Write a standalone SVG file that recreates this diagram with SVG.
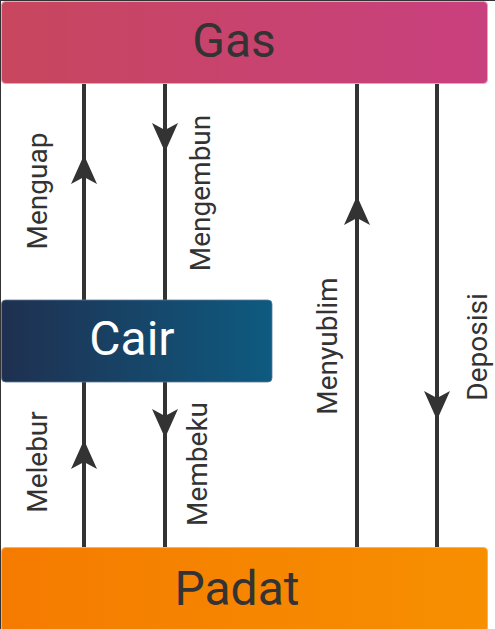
<svg xmlns="http://www.w3.org/2000/svg" xmlns:xlink="http://www.w3.org/1999/xlink" width="495" height="629" viewBox="0 0 495 629">
  <style>
    .conn { stroke: #333333; stroke-width: 4; fill: none; }
    .head { fill: #333333; }
    .lbl { font-family: Roboto, "Liberation Sans", sans-serif; font-size: 28px; fill: #333333; text-anchor: middle; }
    .big { font-family: Roboto, "Liberation Sans", sans-serif; font-size: 48px; text-anchor: middle; }
  </style>
  <defs>
    <linearGradient id="gGas" x1="0" y1="0" x2="1" y2="0">
      <stop offset="0" stop-color="#c8465e"/>
      <stop offset="1" stop-color="#c9407f"/>
    </linearGradient>
    <linearGradient id="gCair" x1="0" y1="0" x2="1" y2="0">
      <stop offset="0" stop-color="#1f3050"/>
      <stop offset="1" stop-color="#0e5a80"/>
    </linearGradient>
    <linearGradient id="gPadat" x1="0" y1="0" x2="1" y2="0">
      <stop offset="0" stop-color="#f57b00"/>
      <stop offset="1" stop-color="#f78f00"/>
    </linearGradient>
    <path id="up" d="M0,0 L13,29 L0,22 L-13,29 Z"/>
  </defs>
  <rect x="0" y="0" width="495" height="629" fill="#ffffff"/>
  <line x1="0.5" y1="0" x2="0.5" y2="629" stroke="#333333" stroke-width="1"/>
  <line x1="0" y1="0.5" x2="495" y2="0.5" stroke="#333333" stroke-width="1"/>

  <g id="connectors">
    <g id="menguap">
      <line class="conn" x1="84" y1="300" x2="84" y2="83"/>
      <use class="head" xlink:href="#up" href="#up" transform="translate(84,155)"/>
      <text class="lbl" transform="translate(47,191) rotate(-90)">Menguap</text>
    </g>
    <g id="mengembun">
      <line class="conn" x1="165" y1="83" x2="165" y2="300"/>
      <use class="head" xlink:href="#up" href="#up" transform="translate(165,152) rotate(180)"/>
      <text class="lbl" transform="translate(210,193) rotate(-90)">Mengembun</text>
    </g>
    <g id="menyublim">
      <line class="conn" x1="357" y1="547" x2="357" y2="83"/>
      <use class="head" xlink:href="#up" href="#up" transform="translate(357,196)"/>
      <text class="lbl" transform="translate(337,346) rotate(-90)">Menyublim</text>
    </g>
    <g id="deposisi">
      <line class="conn" x1="437" y1="83" x2="437" y2="547"/>
      <use class="head" xlink:href="#up" href="#up" transform="translate(437,420) rotate(180)"/>
      <text class="lbl" transform="translate(487,347) rotate(-90)">Deposisi</text>
    </g>
    <g id="melebur">
      <line class="conn" x1="84" y1="547" x2="84" y2="382"/>
      <use class="head" xlink:href="#up" href="#up" transform="translate(84,440)"/>
      <text class="lbl" transform="translate(47,462) rotate(-90)">Melebur</text>
    </g>
    <g id="membeku">
      <line class="conn" x1="165" y1="382" x2="165" y2="547"/>
      <use class="head" xlink:href="#up" href="#up" transform="translate(165,438) rotate(180)"/>
      <text class="lbl" transform="translate(207,464) rotate(-90)">Membeku</text>
    </g>
  </g>

  <g id="gas">
    <rect x="1.5" y="1.5" width="486" height="82" rx="4" fill="url(#gGas)" stroke="#eaa2c2" stroke-width="1"/>
    <text class="big" x="234" y="57" fill="#333333">Gas</text>
  </g>
  <g id="cair">
    <rect x="1.5" y="300" width="270.5" height="82" rx="4" fill="url(#gCair)" stroke="#5a7a99" stroke-width="0.8"/>
    <text class="big" x="132" y="355" fill="#ffffff">Cair</text>
  </g>
  <g id="padat">
    <rect x="1.5" y="547.5" width="486" height="84" rx="4" fill="url(#gPadat)" stroke="#f9b060" stroke-width="1"/>
    <text class="big" x="237" y="605" fill="#333333">Padat</text>
  </g>
</svg>
